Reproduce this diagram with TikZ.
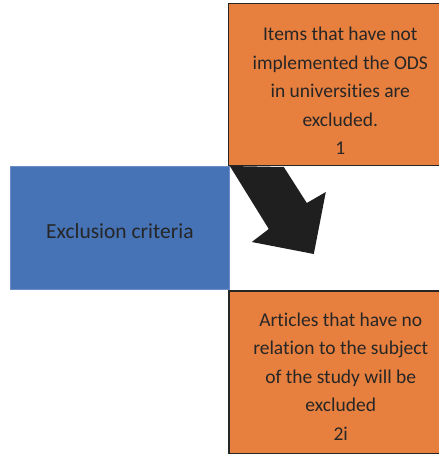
\documentclass[tikz,border=0pt]{standalone}
\usepackage{fontspec}
\setmainfont{Carlito}[Ligatures=NoCommon]
\usepackage{tikz}

\definecolor{critblue}{HTML}{4672B6}
\definecolor{critedge}{HTML}{6E8ECA}
\definecolor{itemorange}{HTML}{E7803E}
\definecolor{inkdark}{HTML}{262626}

\begin{document}
\begin{tikzpicture}[
      x=1pt, y=1pt,
      criterion/.style={draw=critedge,line width=0.8pt,fill=critblue,text=inkdark,
        minimum width=219pt,minimum height=123pt,anchor=north west,inner sep=0pt},
      itembox/.style={draw=black!85,line width=1.5pt,fill=itemorange,text=inkdark,
        minimum width=224pt,minimum height=162pt,anchor=north west,inner sep=0pt,
        align=center,font=\fontsize{19.5}{28.5}\selectfont},
      blockarrow/.style={fill=black!88}
    ]
    \useasboundingbox (0,0) rectangle (438,-454);
    % Draw the criterion box.
    \node[criterion,font=\fontsize{21.5}{26}\selectfont,text height=22pt] (crit) at (10,-166)
      {Exclusion criteria};
    % Draw the two items.
    \node[itembox,text height=140pt] (itemA) at (227.5,-3)
      {Items that have not\\implemented the ODS\\in universities are\\excluded.\\1};
    \node[itembox,minimum height=163pt,text height=136pt] (itemB) at (228,-290)
      {Articles that have no\\relation to the subject\\of the study will be\\excluded\\2i};
    % Draw the arrow between them.
    \fill[blockarrow] (crit.north east) -- ++(54,-1) -- ++(23,-36) -- ++(19,11)
      -- ++(-12,-62) -- ++(-62,12) -- ++(17,13) -- cycle;
\end{tikzpicture}
\end{document}
